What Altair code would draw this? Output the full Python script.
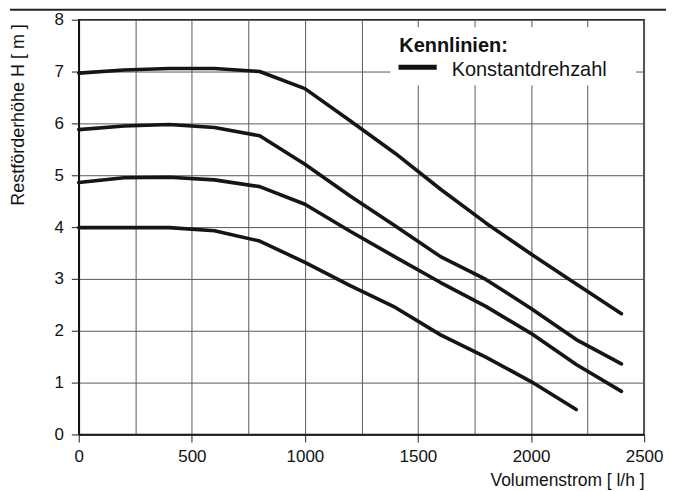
import altair as alt
import pandas as pd

# ---- data ----
flow = [0, 200, 400, 600, 800, 1000, 1200, 1400, 1600, 1800, 2000, 2200, 2400]
head_7 = [6.97, 7.03, 7.06, 7.06, 7.00, 6.67, 6.05, 5.42, 4.73, 4.08, 3.48, 2.90, 2.33]
head_6 = [5.88, 5.95, 5.98, 5.92, 5.76, 5.21, 4.60, 4.02, 3.43, 2.99, 2.43, 1.83, 1.36]
head_5 = [4.86, 4.95, 4.96, 4.91, 4.78, 4.44, 3.92, 3.42, 2.93, 2.47, 1.95, 1.35, 0.83]
flow_4 = [0, 200, 400, 600, 800, 1000, 1200, 1400, 1600, 1800, 2000, 2200]
head_4 = [3.99, 3.99, 3.99, 3.93, 3.73, 3.32, 2.87, 2.45, 1.92, 1.49, 1.02, 0.48]

x_grid = [0, 250, 500, 750, 1000, 1250, 1500, 1750, 2000, 2250, 2500]
y_ticks = [0, 1, 2, 3, 4, 5, 6, 7, 8]

legend_title = ["Kennlinien:"]
legend_label = ["Konstantdrehzahl"]
x_title = "Volumenstrom [ l/h ]"
y_title = "Restförderhöhe H [ m ]"

rows = []
for name, xs, ys in [("7 m", flow, head_7), ("6 m", flow, head_6),
                     ("5 m", flow, head_5), ("4 m", flow_4, head_4)]:
    for a, b in zip(xs, ys):
        rows.append({"curve": name, "flow": a, "head": b})
df = pd.DataFrame(rows)

FONT = "Liberation Sans"
W, H = 567, 416

x_axis = alt.Axis(
    values=x_grid,
    labelExpr="datum.value % 500 === 0 ? format(datum.value, 'd') : ''",
    tickOpacity={"condition": {"test": "datum.value % 500 !== 0", "value": 0}, "value": 1},
    grid=True, gridColor="#5a5a5a", gridWidth=1,
    domainColor="#111", domainWidth=1.6,
    tickSize=7.5, tickColor="#444", tickWidth=1.2,
    labelPadding=7, labelFontSize=17, labelColor="#111", labelFlush=False,
    labelOverlap=False, labelAngle=0,
    title=x_title, titleFontSize=17.5, titleFontWeight="normal", titleColor="#111",
    titleAnchor="end", titleAlign="right", titleBaseline="alphabetic",
    titleX=W, titleY=51,
)
y_axis = alt.Axis(
    values=y_ticks,
    grid=True, gridColor="#5a5a5a", gridWidth=1,
    domainColor="#111", domainWidth=1.6,
    tickSize=7.5, tickColor="#444", tickWidth=1.2,
    labelPadding=8, labelFontSize=17, labelColor="#111", labelFlush=False,
    title=y_title, titleFontSize=18, titleFontWeight="normal", titleColor="#111",
    titleAngle=270, titleAlign="right", titleBaseline="alphabetic",
    titleX=-55, titleY=4,
)

lines = alt.Chart(df).mark_line(
    color="#151515", strokeWidth=3.6, strokeCap="round", strokeJoin="round"
).encode(
    x=alt.X("flow:Q", scale=alt.Scale(domain=[0, 2500], nice=False), axis=x_axis),
    y=alt.Y("head:Q", scale=alt.Scale(domain=[0, 8], nice=False), axis=y_axis),
    detail="curve:N",
)

one = pd.DataFrame({"t": legend_title})
two = pd.DataFrame({"t": legend_label})

legend_box = alt.Chart(one).mark_rect(color="white").encode(
    x=alt.value(312.5), x2=alt.value(559), y=alt.value(7.7), y2=alt.value(66)
)
legend_head = alt.Chart(one).mark_text(
    align="left", baseline="alphabetic", fontSize=20, fontWeight="bold", color="#111", font=FONT
).encode(x=alt.value(321.5), y=alt.value(32.7), text="t:N")
legend_swatch = alt.Chart(one).mark_rule(color="#111", strokeWidth=5).encode(
    x=alt.value(320.7), x2=alt.value(359), y=alt.value(47.7)
)
legend_text = alt.Chart(two).mark_text(
    align="left", baseline="alphabetic", fontSize=20, color="#111", font=FONT
).encode(x=alt.value(374), y=alt.value(56), text="t:N")

top_rule = alt.Chart(one).mark_rule(color="#222", strokeWidth=2).encode(
    x=alt.value(-69), x2=alt.value(589), y=alt.value(-10)
)

chart = alt.layer(
    lines, legend_box, legend_head, legend_swatch, legend_text, top_rule
).properties(
    width=W, height=H,
    autosize=alt.AutoSizeParams(type="none"),
    padding={"left": 71, "top": 11, "right": 23, "bottom": 56},
    background="white",
).configure(font=FONT).configure_view(stroke="#111", strokeWidth=1.6)

chart.save("out.html", embed_options={"renderer": "svg", "actions": False})
